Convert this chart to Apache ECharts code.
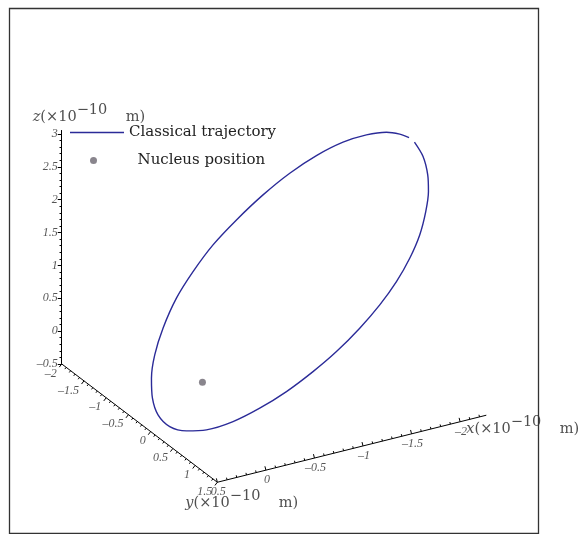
<!DOCTYPE html>
<html>
<head>
<meta charset="utf-8">
<script src="https://cdn.jsdelivr.net/npm/echarts@6/dist/echarts.min.js"></script>
<style>
  html, body { margin: 0; padding: 0; background: #fff; }
  #main { width: 578px; height: 534px; }
</style>
</head>
<body>
<div id="main"></div>
<script>
// box ranges (x10^-10 m)
var xRange = [-2.27, 0.5];
var yRange = [-2, 1.5];
var zRange = [-0.5, 3.06];

// tick values
var xTicks = [0.5, 0, -0.5, -1, -1.5, -2];
var yTicks = [-2, -1.5, -1, -0.5, 0, 0.5, 1, 1.5];
var zTicks = [-0.5, 0, 0.5, 1, 1.5, 2, 2.5, 3];

// nucleus position (x, y, z)
var nucleus = [-0.07, -0.08, 0];

// classical trajectory as seen on the view plane, relative to the nucleus (u right, v up)
var trajU = [3.227, 3.358, 3.429, 3.440, 3.399, 3.307, 3.155, 2.953, 2.699, 2.394, 2.040, 1.683,
  1.279, 0.872, 0.466, 0.061, -0.244, -0.498, -0.676, -0.761, -0.776, -0.726, -0.600, -0.396,
  -0.143, 0.161, 0.518, 0.922, 1.329, 1.735, 2.140, 2.496, 2.801, 3.003, 3.145];
var trajV = [3.653, 3.434, 3.155, 2.901, 2.597, 2.242, 1.887, 1.531, 1.177, 0.822, 0.466, 0.161,
  -0.143, -0.396, -0.600, -0.726, -0.741, -0.676, -0.498, -0.244, 0.061, 0.416, 0.822, 1.279,
  1.683, 2.090, 2.470, 2.851, 3.181, 3.449, 3.653, 3.764, 3.805, 3.775, 3.723];

// view: pixels per unit and screen direction of each 3D axis (screen y down)
var S = 65.7;
var EX = [-97.1, 24.2], EY = [44.46, 33.8], EZ = [0, -65.7];
var ORIGIN_PX = [199.2, 386.6];

function proj(x, y, z) {
  var px = x * EX[0] + y * EY[0] + z * EZ[0];
  var py = x * EX[1] + y * EY[1] + z * EZ[1];
  return [px / S, -py / S];
}
function perp(e, sign) {
  var l = Math.sqrt(e[0] * e[0] + e[1] * e[1]);
  var d = [-e[1] / l * sign, e[0] / l * sign];
  return [d[0] / S, -d[1] / S];
}
function fmt(v) { return v < 0 ? '\u2013' + Math.abs(v) : String(v); }

var segs = [];
function addSeg(a, b) { segs.push({ coords: [a, b] }); }

// frame axes
var xa0 = proj(xRange[1], yRange[1], zRange[0]), xa1 = proj(xRange[0], yRange[1], zRange[0]);
var ya0 = proj(xRange[1], yRange[0], zRange[0]), ya1 = proj(xRange[1], yRange[1], zRange[0]);
var za0 = proj(xRange[1], yRange[0], zRange[0]), za1 = proj(xRange[1], yRange[0], zRange[1]);
addSeg(xa0, xa1); addSeg(ya0, ya1); addSeg(za0, za1);

var dX = perp(EX, 1), dY = perp(EY, 1), dZ = [-1 / S, 0];
function addTicks(pointFn, lo, hi, majors, dir) {
  for (var k = Math.ceil(lo * 10 - 1e-6); k <= Math.floor(hi * 10 + 1e-6); k++) {
    var v = k / 10;
    var isMajor = majors.some(function (m) { return Math.abs(m - v) < 1e-6; });
    var len = isMajor ? 4 : 2.2;
    var p = pointFn(v);
    addSeg(p, [p[0] + dir[0] * len, p[1] + dir[1] * len]);
  }
}
addTicks(function (v) { return proj(v, yRange[1], zRange[0]); }, xRange[0], xRange[1], xTicks, dX);
addTicks(function (v) { return proj(xRange[1], v, zRange[0]); }, yRange[0], yRange[1], yTicks, dY);
addTicks(function (v) { return proj(xRange[1], yRange[0], v); }, zRange[0], zRange[1], zTicks, dZ);

var tickFont = { fontFamily: 'Liberation Serif', fontStyle: 'italic', fontSize: 12, color: '#2a2a2a' };
function labelSeries(points, values, label) {
  return {
    type: 'scatter', silent: true, symbolSize: 1, itemStyle: { color: 'transparent' },
    data: points.map(function (p, i) { return [p[0], p[1], fmt(values[i])]; }),
    label: Object.assign({ show: true, position: 'inside', formatter: function (d) { return d.value[2]; } }, tickFont, label)
  };
}

var TF = 14.5, LF = 15;
var titleRich = {
  i: { fontFamily: 'DejaVu Serif', fontStyle: 'italic', fontSize: TF, color: '#222', verticalAlign: 'bottom', lineHeight: 26 },
  n: { fontFamily: 'DejaVu Serif', fontSize: TF, color: '#222', verticalAlign: 'bottom', lineHeight: 26 },
  s: { fontFamily: 'DejaVu Serif', fontSize: TF, color: '#222', verticalAlign: 'bottom', lineHeight: 26, padding: [0, 0, 7, 0] }
};
function titleSeries(p, name, offset) {
  return {
    type: 'scatter', silent: true, symbolSize: 1, itemStyle: { color: 'transparent' },
    data: [[p[0], p[1]]],
    label: {
      show: true, position: 'inside', align: 'left', verticalAlign: 'bottom', offset: offset,
      formatter: '{i|' + name + '}{n|(\u00d710}{s|\u221210}{n|    m)}', rich: titleRich
    }
  };
}

var nuc = proj(nucleus[0], nucleus[1], nucleus[2]);

var chart = echarts.init(document.getElementById('main'));
var option = {
  animation: false,
  grid: { left: 0, right: 0, top: 0, bottom: 0, outerBoundsMode: 'none' },
  xAxis: { type: 'value', show: false, min: -ORIGIN_PX[0] / S, max: (578 - ORIGIN_PX[0]) / S },
  yAxis: { type: 'value', show: false, min: -(534 - ORIGIN_PX[1]) / S, max: ORIGIN_PX[1] / S },
  legend: [
    {
      data: [{ name: 'Classical trajectory', icon: 'rect' }],
      left: 70, top: 125, padding: 0, itemWidth: 54, itemHeight: 1.6, selectedMode: false,
      textStyle: { fontFamily: 'DejaVu Serif', fontSize: LF, color: '#222' }
    },
    {
      data: [{ name: 'Nucleus position', icon: 'circle' }],
      left: 90, top: 153, padding: 0, itemWidth: 54, itemHeight: 7, selectedMode: false,
      textStyle: { fontFamily: 'DejaVu Serif', fontSize: LF, color: '#222', padding: [0, 0, 0, 12] }
    }
  ],
  graphic: [{
    type: 'rect', silent: true, z: 100,
    shape: { x: 9.5, y: 8.5, width: 529, height: 525 },
    style: { fill: null, stroke: '#333', lineWidth: 1.3 }
  }],
  series: [
    {
      type: 'lines', coordinateSystem: 'cartesian2d', silent: true, data: segs,
      lineStyle: { color: '#000', width: 1, opacity: 1 }
    },
    {
      name: 'Classical trajectory', type: 'line', silent: true, symbol: 'none', smooth: 0.3,
      data: trajU.map(function (u, i) { return [nuc[0] + u, nuc[1] + trajV[i]]; }),
      itemStyle: { color: '#2b2b98' }, lineStyle: { color: '#2b2b98', width: 1.4 }
    },
    {
      name: 'Nucleus position', type: 'scatter', silent: true, symbolSize: 7,
      data: [nuc],
      itemStyle: { color: '#6b6670' }
    },
    labelSeries(xTicks.map(function (v) { return proj(v, yRange[1], zRange[0]); }), xTicks,
      { align: 'center', verticalAlign: 'middle', offset: [1, 10] }),
    labelSeries(yTicks.map(function (v) { return proj(xRange[1], v, zRange[0]); }), yTicks,
      { align: 'right', verticalAlign: 'middle', offset: [-5, 9.5] }),
    labelSeries(zTicks.map(function (v) { return proj(xRange[1], yRange[0], v); }), zTicks,
      { align: 'right', verticalAlign: 'middle', offset: [-4, 0] }),
    titleSeries(za1, 'z', [-29, -5]),
    titleSeries(xa1, 'x', [-20, 21.5]),
    titleSeries(ya1, 'y', [-32, 28])
  ]
};
chart.setOption(option);
</script>
</body>
</html>
